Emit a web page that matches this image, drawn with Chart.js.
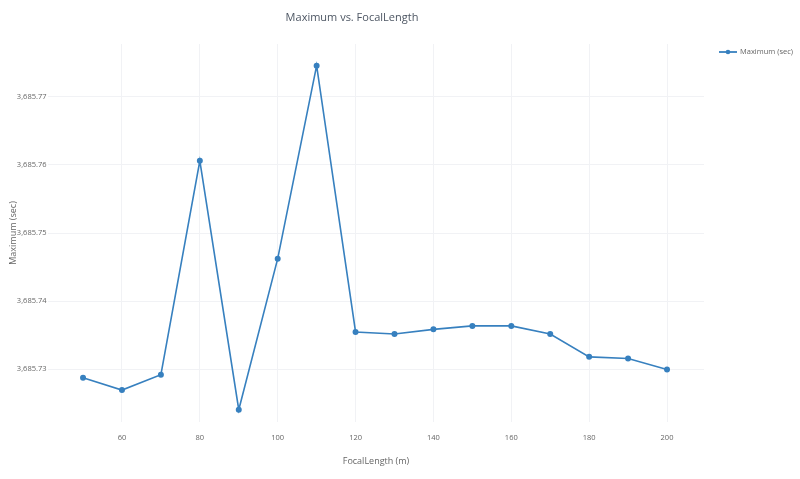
<!DOCTYPE html>
<html>
<head>
<meta charset="utf-8">
<script src="https://cdn.jsdelivr.net/npm/chart.js@4"></script>
<style>
  html, body { margin: 0; padding: 0; background: #fff; }
  #wrap { width: 800px; height: 479px; }
</style>
</head>
<body>
<div id="wrap"><canvas id="chart"></canvas></div>
<script>
const focalLength = [50, 60, 70, 80, 90, 100, 110, 120, 130, 140, 150, 160, 170, 180, 190, 200];
const maximum = [3685.72877, 3685.72696, 3685.72921, 3685.76059, 3685.72407, 3685.74624, 3685.77455,
                 3685.73548, 3685.73518, 3685.73586, 3685.73637, 3685.73637, 3685.73518, 3685.73183,
                 3685.73158, 3685.72996];
const xTicks = [60, 80, 100, 120, 140, 160, 180, 200];
const yTicks = [3685.73, 3685.74, 3685.75, 3685.76, 3685.77];

const lineColor = 'rgb(55,128,191)';
const textColor = '#666';
const gridColor = '#f1f2f5';
const fontFamily = '"Open Sans", sans-serif';

// legend drawn by hand so it sits like the plotly one
const legendPlugin = {
    id: 'sideLegend',
    afterDraw(chart) {
        const ctx = chart.ctx;
        const ds = chart.data.datasets[0];
        const y = 52;
        ctx.save();
        ctx.strokeStyle = lineColor;
        ctx.lineWidth = 1.8;
        ctx.beginPath();
        ctx.moveTo(719, y);
        ctx.lineTo(737, y);
        ctx.stroke();
        ctx.fillStyle = lineColor;
        ctx.beginPath();
        ctx.arc(728, y, 2.3, 0, Math.PI * 2);
        ctx.fill();
        ctx.fillStyle = textColor;
        ctx.font = '7.5px ' + fontFamily;
        ctx.textBaseline = 'middle';
        ctx.fillText(ds.label, 740, y);
        ctx.restore();
    }
};

const ctx = document.getElementById('chart').getContext('2d');
new Chart(ctx, {
    type: 'line',
    data: {
        datasets: [{
            label: 'Maximum (sec)',
            data: focalLength.map((x, i) => ({ x: x, y: maximum[i] })),
            borderColor: lineColor,
            backgroundColor: lineColor,
            borderWidth: 1.6,
            pointRadius: 2.2,
            pointHoverRadius: 3,
            tension: 0,
            fill: false
        }]
    },
    options: {
        responsive: true,
        maintainAspectRatio: false,
        animation: false,
        layout: { padding: { top: 0, right: 96, bottom: 0, left: 0 } },
        plugins: {
            legend: { display: false },
            tooltip: { enabled: false },
            title: {
                display: true,
                text: 'Maximum vs. FocalLength',
                color: '#4d5663',
                font: { family: fontFamily, size: 11, weight: 'normal' },
                padding: { top: 11.5, bottom: 19.3 }
            }
        },
        scales: {
            x: {
                type: 'linear',
                min: 41,
                max: 209.5,
                afterFit(scale) { scale.height = 57; },
                afterBuildTicks(scale) { scale.ticks = xTicks.map(v => ({ value: v })); },
                grid: { color: gridColor, drawTicks: false },
                border: { display: false },
                ticks: {
                    color: textColor,
                    padding: 11,
                    font: { family: fontFamily, size: 7.5 },
                    callback: v => String(v)
                },
                title: {
                    display: true,
                    text: 'FocalLength (m)',
                    color: textColor,
                    font: { family: fontFamily, size: 9 },
                    padding: { top: 0, bottom: 12 }
                }
            },
            y: {
                min: 3685.72227,
                max: 3685.77773,
                afterFit(scale) { scale.width = 48; },
                afterBuildTicks(scale) { scale.ticks = yTicks.map(v => ({ value: v })); },
                grid: { color: gridColor, drawTicks: false },
                border: { display: false },
                ticks: {
                    color: textColor,
                    padding: 1.5,
                    font: { family: fontFamily, size: 7.5 },
                    callback: v => v.toLocaleString('en-US', { minimumFractionDigits: 2, maximumFractionDigits: 2 })
                },
                title: {
                    display: true,
                    text: 'Maximum (sec)',
                    color: textColor,
                    font: { family: fontFamily, size: 9 },
                    padding: { top: 8, bottom: 0 }
                }
            }
        }
    },
    plugins: [legendPlugin]
});
</script>
</body>
</html>
